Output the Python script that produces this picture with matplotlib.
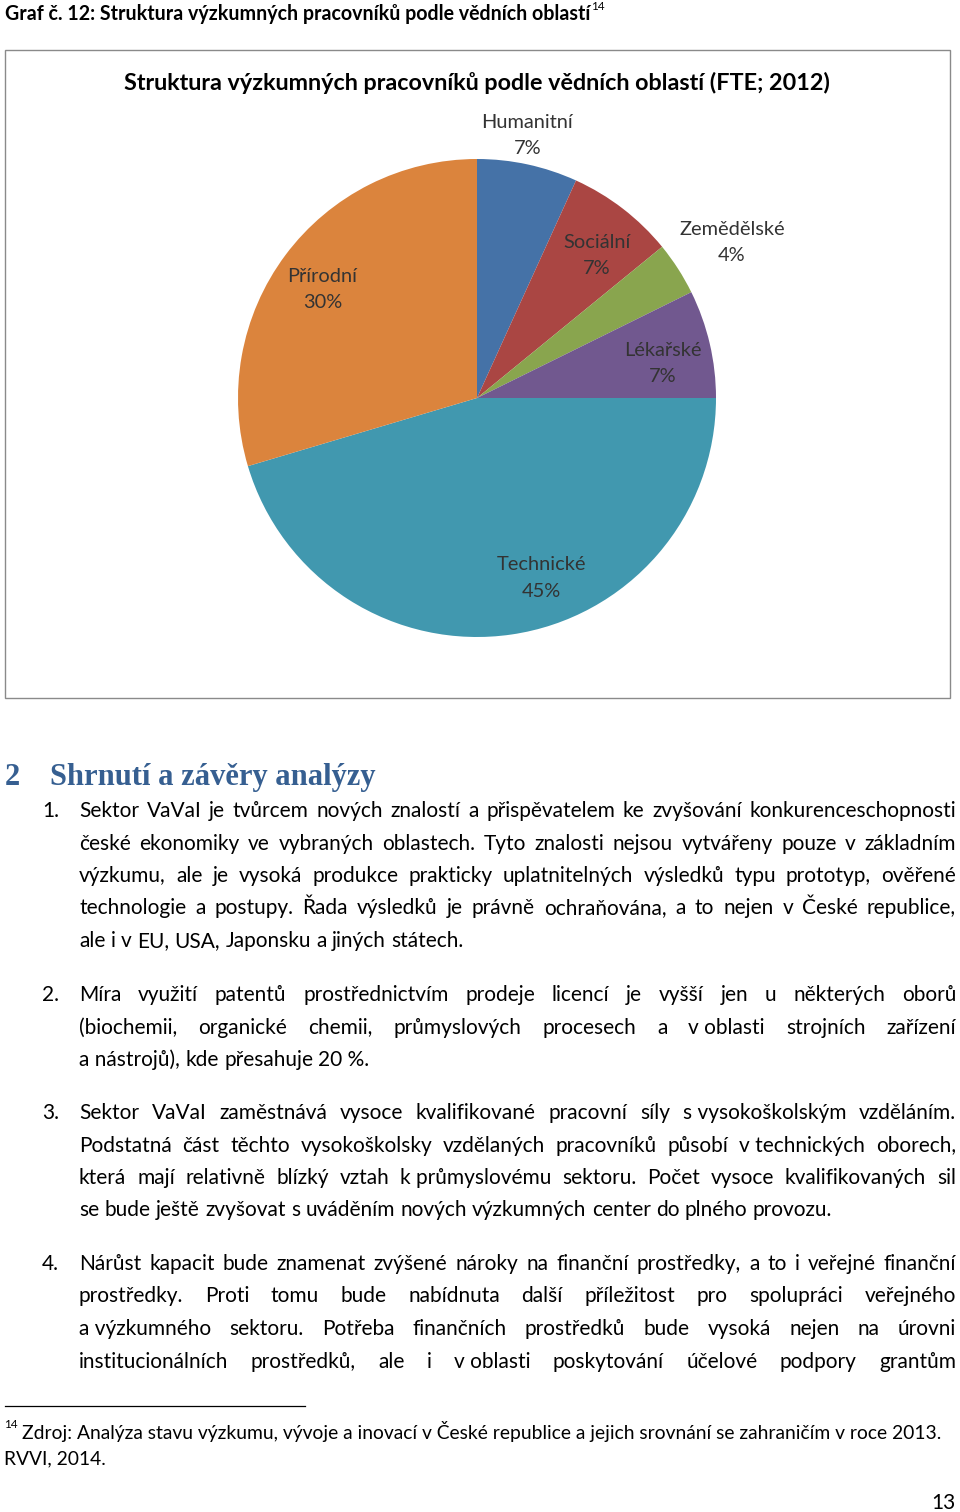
import matplotlib
matplotlib.use("Agg")
import matplotlib.pyplot as plt
from matplotlib.patches import Rectangle
from matplotlib.lines import Line2D
import numpy as np

plt.rcParams['font.family'] = ['Lato', 'DejaVu Sans']

# chart data
categories = ["Humanitní", "Sociální", "Zemědělské", "Lékařské", "Technické", "Přírodní"]
shares = [6.8, 7.3, 3.6, 7.3, 45.4, 29.6]
colors = ["#4572A7", "#AA4643", "#89A54E", "#71588F", "#4198AF", "#DB843D"]

caption = "Graf č. 12: Struktura výzkumných pracovníků podle vědních oblastí"
chart_title = "Struktura výzkumných pracovníků podle vědních oblastí (FTE; 2012)"
heading_no = "2"
heading = "Shrnutí a závěry analýzy"

# numbered paragraphs, already broken into lines as on the page
paragraphs = [
    ["Sektor VaVaI je tvůrcem nových znalostí a přispěvatelem ke zvyšování konkurenceschopnosti",
     "české ekonomiky ve vybraných oblastech. Tyto znalosti nejsou vytvářeny pouze v základním",
     "výzkumu, ale je vysoká produkce prakticky uplatnitelných výsledků typu prototyp, ověřené",
     "technologie a postupy. Řada výsledků je právně ochraňována, a to nejen v České republice,",
     "ale i v EU, USA, Japonsku a jiných státech."],
    ["Míra využití patentů prostřednictvím prodeje licencí je vyšší jen u některých oborů",
     "(biochemii, organické chemii, průmyslových procesech a v\u00a0oblasti strojních zařízení",
     "a\u00a0nástrojů), kde přesahuje 20\u00a0%."],
    ["Sektor VaVaI zaměstnává vysoce kvalifikované pracovní síly s\u00a0vysokoškolským vzděláním.",
     "Podstatná část těchto vysokoškolsky vzdělaných pracovníků působí v\u00a0technických oborech,",
     "která mají relativně blízký vztah k\u00a0průmyslovému sektoru. Počet vysoce kvalifikovaných sil",
     "se bude ještě zvyšovat s uváděním nových výzkumných center do plného provozu."],
    ["Nárůst kapacit bude znamenat zvýšené nároky na finanční prostředky, a to i veřejné finanční",
     "prostředky. Proti tomu bude nabídnuta další příležitost pro spolupráci veřejného",
     "a\u00a0výzkumného sektoru. Potřeba finančních prostředků bude vysoká nejen na úrovni",
     "institucionálních prostředků, ale i v\u00a0oblasti poskytování účelové podpory grantům"],
]
para_continues = [False, False, False, True]
para_start = [817, 1001, 1119, 1270]

footnote_no = "14"
footnote = ["Zdroj: Analýza stavu výzkumu, vývoje a inovací v České republice a jejich srovnání se zahraničím v roce 2013.",
            "RVVI, 2014."]
page_no = "13"

W, H = 960, 1512
fig = plt.figure(figsize=(W / 100, H / 100), dpi=100)
fig.patch.set_facecolor("white")
renderer = fig.canvas.get_renderer()


def px(x, y):
    return x / W, 1 - y / H


# caption with footnote mark right after it
cap = fig.text(*px(5, 20), caption, fontsize=14.1, fontweight="bold", va="baseline", color="black")
cap_w = cap.get_window_extent(renderer).width
fig.text(*px(5 + cap_w + 1, 10), footnote_no, fontsize=8.5, va="baseline", color="black")

# chart frame
fig.patches.append(Rectangle(px(5, 698), 945 / W, 648 / H, transform=fig.transFigure,
                             fill=False, edgecolor="#8a8a8a", lw=1.0))
fig.text(*px(477, 90), chart_title, fontsize=16.8, fontweight="bold", ha="center",
         va="baseline", color="black")

# pie
cx, cy, r = 477, 398, 239
ax = fig.add_axes([(cx - r) / W, 1 - (cy + r) / H, 2 * r / W, 2 * r / H])
wedges, _ = ax.pie(shares, colors=colors, startangle=90, counterclock=False,
                   wedgeprops=dict(linewidth=0))
ax.set_xlim(-1, 1)
ax.set_ylim(-1, 1)
ax.axis("off")

label_pos = [(1.12, 1.4), (0.78, -2.4), (1.25, -1.3), (0.79, -2.7), (0.80, 11.4), (0.79, 1.7)]
for w, name, val, (dist, nudge) in zip(wedges, categories, shares, label_pos):
    ang = np.radians((w.theta1 + w.theta2) / 2 + nudge)
    ax.text(dist * np.cos(ang), dist * np.sin(ang), f"{name}\n{round(val):.0f}%",
            ha="center", va="center", fontsize=14.4, color="#333333", linespacing=1.65)

# heading
fig.text(*px(5, 785), heading_no, fontsize=22, fontweight="bold", family="Liberation Serif",
         color="#365F91", va="baseline")
fig.text(*px(50, 785), heading, fontsize=22, fontweight="bold", family="Liberation Serif",
         color="#365F91", va="baseline")

body_size = 15.0
line_h = 32.5
x_num, x0, x1 = 42, 79, 956


def text_width(s, size):
    t = fig.text(0, 0, s, fontsize=size)
    w = t.get_window_extent(renderer).width
    t.remove()
    return w


space_w = text_width("a a", body_size) - text_width("aa", body_size)


def draw_line(line, y, justify):
    words = line.split(" ")
    arts = [fig.text(0, 0, wd, fontsize=body_size, va="baseline", color="black") for wd in words]
    widths = [a.get_window_extent(renderer).width for a in arts]
    gap = space_w
    if justify and len(words) > 1:
        gap = (x1 - x0 - sum(widths)) / (len(words) - 1)
    x = x0
    for a, wdt in zip(arts, widths):
        a.set_position(px(x, y))
        x += wdt + gap


for i, (lines, y0, cont) in enumerate(zip(paragraphs, para_start, para_continues)):
    fig.text(*px(x_num, y0), f"{i + 1}.", fontsize=body_size, va="baseline", color="black")
    for j, line in enumerate(lines):
        last = (j == len(lines) - 1) and not cont
        draw_line(line, y0 + j * line_h, not last)

# footnote
fig.add_artist(Line2D([5 / W, 305 / W], [1 - 1406 / H] * 2, color="black", lw=0.9,
                      transform=fig.transFigure))
fig.text(*px(4, 1428), footnote_no, fontsize=8.5, va="baseline", color="black")
fig.text(*px(22, 1439), footnote[0], fontsize=13.9, va="baseline", color="black")
fig.text(*px(4, 1464), footnote[1], fontsize=13.9, va="baseline", color="black")

fig.text(*px(956, 1509), page_no, fontsize=15, ha="right", va="baseline", color="black")

fig.savefig("out.png", dpi=100, facecolor="white")
